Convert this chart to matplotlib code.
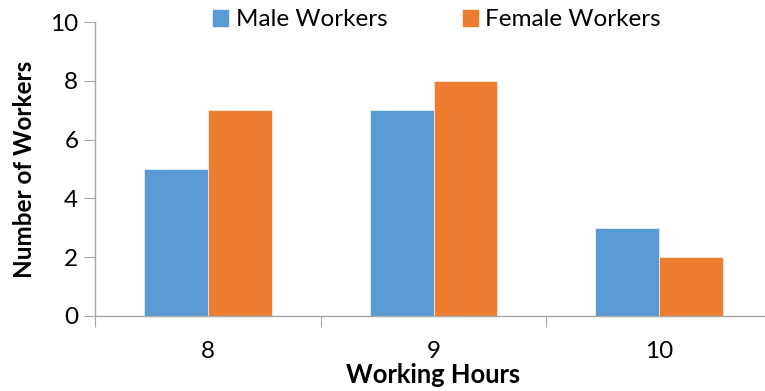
import matplotlib.pyplot as plt
import numpy as np
from matplotlib.patches import Patch

hours = ['8', '9', '10']
male = [5, 7, 3]
female = [7, 8, 2]

blue = '#5B9BD5'
orange = '#ED7D31'
axis_gray = '#A6A6A6'

plt.rcParams['font.family'] = ['Lato', 'DejaVu Sans']

fig = plt.figure(figsize=(7.65, 3.91), dpi=100)
ax = fig.add_axes([95 / 765, 1 - 316 / 391, 677 / 765, 294 / 391])

x = np.arange(len(hours)) + 0.5
w = 0.283
ax.bar(x - w / 2, male, w, color=blue, edgecolor='white', linewidth=0.4)
ax.bar(x + w / 2, female, w, color=orange, edgecolor='white', linewidth=0.4)

ax.set_xlim(0, 3)
ax.set_ylim(0, 10)
ax.set_yticks(range(0, 11, 2))
ax.set_xticks([0, 1, 2, 3])
ax.set_xticklabels([])
ax.set_xticks(x, minor=True)
ax.set_xticklabels(hours, minor=True)
ax.tick_params(axis='x', which='minor', length=0, pad=18, labelsize=17.5)
ax.tick_params(axis='x', which='major', length=8, direction='out', color=axis_gray)
ax.tick_params(axis='y', length=8, direction='out', color=axis_gray, labelsize=17.5, pad=4)

for side in ['top', 'right']:
    ax.spines[side].set_visible(False)
for side in ['left', 'bottom']:
    ax.spines[side].set_color(axis_gray)
    ax.spines[side].set_linewidth(1.0)

ax.set_xlabel('Working Hours', fontsize=18.4, fontweight='bold', labelpad=1)
ax.set_ylabel('Number of Workers', fontsize=17.5, fontweight='bold', labelpad=10)

handles = [Patch(color=blue, label='Male Workers'), Patch(color=orange, label='Female Workers')]
fig.legend(handles=handles, loc='center', bbox_to_anchor=(437 / 765, 1 - 20 / 391), ncol=2,
           frameon=False, fontsize=17.5, handlelength=0.62, handleheight=0.62,
           handletextpad=0.3, columnspacing=3.1)

fig.savefig('out.png', dpi=100)
